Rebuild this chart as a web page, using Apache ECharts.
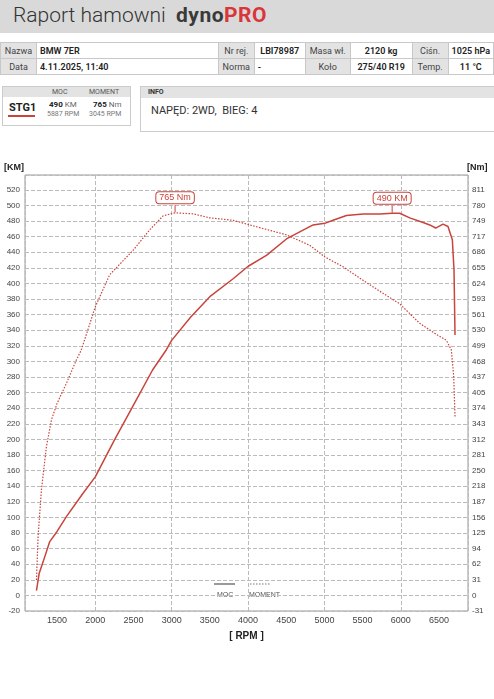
<!DOCTYPE html>
<html><head><meta charset="utf-8">
<script src="https://cdn.jsdelivr.net/npm/echarts@6/dist/echarts.min.js"></script>
<style>
body{margin:0;width:494px;height:699px;background:#fff;font-family:Roboto,"Noto Sans",sans-serif;position:relative;overflow:hidden;}
#hdr{position:absolute;left:0;top:0;width:494px;height:33px;background:#d9d9d9;}
#hdr .t{position:absolute;left:13px;top:3px;font-size:21px;font-weight:300;color:#333;}
#hdr .d{position:absolute;left:176px;top:3px;font-size:21px;font-weight:700;color:#3a3a3a;letter-spacing:0.5px}
#hdr .d span{color:#d9363a}
table.inf{position:absolute;left:0;top:42px;width:494px;border-collapse:collapse;font-size:9px;color:#222;}
table.inf td{border:1px solid #c8c8c8;height:15px;padding:0 3px;white-space:nowrap}
table.inf td.l{background:#e3e3e3;color:#444;text-align:center}
table.inf td.v{font-weight:600}
.box{position:absolute;border:1px solid #ccc;background:#fff}
.bh{background:#e3e3e3;height:10px;font-size:7px;color:#555}
</style></head><body>
<div id="hdr"><div class="t">Raport hamowni</div><div class="d">dyno<span>PRO</span></div></div>
<table class="inf">
<tr><td class="l" style="width:29px">Nazwa</td><td class="v" style="width:176px">BMW 7ER</td><td class="l" style="width:29px">Nr rej.</td><td class="v" style="width:44px;text-align:center">LBI78987</td><td class="l" style="width:38px">Masa wł.</td><td class="v" style="width:55px;text-align:center">2120 kg</td><td class="l" style="width:29px">Ciśn.</td><td class="v" style="text-align:center">1025 hPa</td></tr>
<tr><td class="l">Data</td><td class="v">4.11.2025, 11:40</td><td class="l">Norma</td><td class="v">-</td><td class="l">Koło</td><td class="v" style="text-align:center">275/40 R19</td><td class="l">Temp.</td><td class="v" style="text-align:center">11 °C</td></tr>
</table>
<div class="box" style="left:2px;top:86px;width:127px;height:38px">
 <div class="bh"><span style="position:absolute;left:49px;top:1px">MOC</span><span style="position:absolute;left:86px;top:1px">MOMENT</span></div>
 <div style="position:absolute;left:6px;top:14px;font-size:11px;font-weight:700;color:#222">STG1</div>
 <div style="position:absolute;left:5px;top:28px;width:27px;height:2px;background:#c8443c"></div>
 <div style="position:absolute;left:46px;top:13px;font-size:8px;color:#222"><b>490</b> <span style="color:#666">KM</span></div>
 <div style="position:absolute;left:44px;top:23px;font-size:7px;color:#777">5887 RPM</div>
 <div style="position:absolute;left:90px;top:13px;font-size:8px;color:#222"><b>765</b> <span style="color:#666">Nm</span></div>
 <div style="position:absolute;left:86px;top:23px;font-size:7px;color:#777">3045 RPM</div>
</div>
<div class="box" style="left:140px;top:86px;width:360px;height:44px">
 <div class="bh" style="height:11px"><span style="position:absolute;left:7px;top:1px;font-weight:700;color:#333">INFO</span></div>
 <div style="position:absolute;left:10px;top:17px;font-size:11px;color:#333">NAPĘD: 2WD,&nbsp; BIEG: 4</div>
</div>
<div id="c" style="position:absolute;left:0;top:155px;width:494px;height:544px"></div>
<script>
const rpmPower=[1230,1265,1317,1404,1500,1622,1840,2000,2250,2500,2750,2931,3000,3250,3500,3805,4002,4241,4503,4677,4852,5004,5113,5288,5506,5724,5887,5986,6117,6292,6379,6457,6553,6618,6675,6697,6710];
const powerKM=[6,28,43,69,82,101,131,152,199,244,289,315,327,357,383,406,422,436,457,466,475,477,481,487,489,489,490,490,484,478,475,471,476,473,456,417,334];
const rpmTorque=[1230,1251,1295,1360,1426,1500,1622,1753,1818,2000,2188,2500,2713,2888,3045,3280,3500,3805,4066,4503,4808,5004,5244,5506,5768,5986,6248,6466,6597,6662,6693,6710];
const torqueNm=[31,117,211,297,351,384,424,471,491,577,641,691,731,759,765,763,755,750,739,721,700,677,657,630,604,583,544,522,510,491,437,357];
const xTicks=[1500,2000,2500,3000,3500,4000,4500,5000,5500,6000,6500];
const k=811/520, red='#c8443c';
const ch=echarts.init(document.getElementById('c'));
const lbl={show:true,position:'top',distance:2,formatter:'',color:red,fontSize:9,backgroundColor:'#fff',borderColor:red,borderWidth:1,borderRadius:3,padding:[1,3]};
ch.setOption({animation:false,
 grid:{left:25,right:26,top:20,bottom:88,show:true,borderColor:'#999',borderWidth:1},
 xAxis:{type:'value',min:1080,max:6880,axisLine:{show:false},axisTick:{show:false},
  axisLabel:{customValues:xTicks,fontSize:9,color:'#444',margin:5,formatter:v=>String(v)},
  splitLine:{show:true,lineStyle:{type:'dashed',color:'#bbb'}},
  name:'[ RPM ]',nameLocation:'middle',nameGap:20,nameTextStyle:{fontSize:10,fontWeight:'bold',color:'#222'}},
 yAxis:[{type:'value',min:-20,max:539,interval:20,axisLine:{show:false},axisTick:{show:false},
  axisLabel:{fontSize:8,color:'#444',margin:5,showMaxLabel:false},splitLine:{lineStyle:{type:'dashed',color:'#bbb'}}},
  {type:'value',min:-20*k,max:539*k,interval:20*k,axisLine:{show:false},axisTick:{show:false},
  axisLabel:{fontSize:8,color:'#444',margin:4,showMaxLabel:false,formatter:v=>Math.round(v)},splitLine:{show:false}}],
 series:[
  {type:'line',data:rpmPower.map((r,i)=>[r,powerKM[i]]),showSymbol:false,smooth:false,lineStyle:{color:red,width:1.5},
   markPoint:{symbol:'rect',symbolSize:[1,7],symbolOffset:[0,-4],itemStyle:{color:red},data:[{coord:[5887,490]}],label:Object.assign({},lbl,{formatter:'490 KM'})}},
  {type:'line',yAxisIndex:1,data:rpmTorque.map((r,i)=>[r,torqueNm[i]]),showSymbol:false,smooth:false,lineStyle:{color:red,width:1.2,type:[1.5,1.5]},
   markPoint:{symbol:'rect',symbolSize:[1,7],symbolOffset:[0,-4],itemStyle:{color:red},data:[{coord:[3045,765]}],label:Object.assign({},lbl,{formatter:'765 Nm'})}}
 ],
 graphic:[
  {type:'text',left:4,top:8,style:{text:'[KM]',fontSize:9,fontWeight:'bold',fill:'#222'}},
  {type:'text',left:467,top:8,style:{text:'[Nm]',fontSize:9,fontWeight:'bold',fill:'#222'}},
  {type:'line',shape:{x1:214,y1:429,x2:235,y2:429},style:{stroke:'#777',lineWidth:1.5}},
  {type:'line',shape:{x1:250,y1:429,x2:271,y2:429},style:{stroke:'#777',lineWidth:1.2,lineDash:[1.5,1.5]}},
  {type:'text',left:217,top:437,style:{text:'MOC',fontSize:7,fill:'#555'}},
  {type:'text',left:249,top:437,style:{text:'MOMENT',fontSize:7,fill:'#555'}}
 ]
});
</script></body></html>
